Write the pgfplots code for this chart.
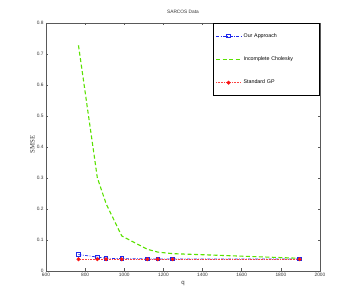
\documentclass[border=0pt]{standalone}
\usepackage{fontspec}
\setmainfont{Liberation Sans}
\newfontfamily\seriffont{Liberation Serif}
\usepackage{pgfplots}
\pgfplotsset{compat=1.18}
\definecolor{cgreen}{RGB}{90,225,0}
\definecolor{cblue}{RGB}{30,40,235}
\definecolor{cred}{RGB}{250,20,20}
\begin{document}
\begin{tikzpicture}
\path[use as bounding box] (-46pt,-34pt) rectangle (308pt,271pt);
\begin{axis}[
  at={(0pt,0pt)}, anchor=south west,
  scale only axis, width=274pt, height=248pt,
  xmin=600, xmax=2000, ymin=0, ymax=0.8,
  xtick={600,800,1000,1200,1400,1600,1800,2000},
  xticklabels={600,800,1000,1200,1400,1600,1800,2000},
  ytick={0,0.1,0.2,0.3,0.4,0.5,0.6,0.7,0.8},
  yticklabels={0,0.1,0.2,0.3,0.4,0.5,0.6,0.7,0.8},
  tick align=inside, tick pos=both, major tick length=2.5pt,
  axis line style={black!65, line width=0.6pt},
  tick style={black!65, line width=0.5pt},
  ticklabel style={font=\fontsize{4.8}{5}\selectfont, text=black!80},
  scaled ticks=false,
  xticklabel style={yshift=1pt},
  yticklabel style={xshift=1pt},
  title={SARCOS Data},
  title style={font=\fontsize{4.8}{5}\selectfont, at={(0.5,1)}, anchor=south, yshift=2pt, inner sep=1pt, text=black!80},
  xlabel={q},
  xlabel style={font=\fontsize{6}{6}\selectfont, at={(axis description cs:0.5,0)}, anchor=north, yshift=-10pt, inner sep=0pt, text=black!80},
  ylabel={\seriffont SMSE},
  ylabel style={font=\fontsize{6.8}{7}\selectfont, at={(axis description cs:-0.05,0.51)}, anchor=center, inner sep=0pt, text=black!80},
  legend style={at={(1,1)}, anchor=north east, draw=black, line width=0.7pt,
    font=\fontsize{5.3}{6}\selectfont, row sep=14pt, inner ysep=8pt, inner xsep=2pt,
    /tikz/every even column/.append style={text width=72pt, align=left}},
  legend cell align=left,
  legend image code/.code={\draw[mark repeat=2,mark phase=2] plot coordinates {(0pt,0pt)(12.5pt,0pt)(25pt,0pt)};},
]
\addplot[cblue, line width=0.7pt, dash pattern=on 3pt off 1.5pt on 0.8pt off 1.5pt,
  mark=square, mark size=1.8pt, mark options={solid, fill=cblue!35, line width=0.8pt}]
  coordinates {(766,0.053)(862,0.045)(907,0.041)(987,0.040)(1118,0.039)(1171,0.039)(1247,0.039)(1896,0.039)};
\addlegendentry{Our Approach}
\addplot[color=cgreen, line width=1.1pt, dash pattern=on 4pt off 2.5pt,
  legend image post style={draw=cgreen, line width=1.1pt}]
  coordinates {(766,0.728)(862,0.302)(907,0.217)(987,0.113)(1118,0.070)(1171,0.061)(1247,0.056)(1896,0.041)};
\addlegendentry{Incomplete Cholesky}
\addplot[cred!80, line width=0.5pt, dash pattern=on 0.6pt off 1pt,
  mark=*, mark size=1.7pt, mark options={solid, fill=cred, draw=cred}]
  coordinates {(766,0.038)(862,0.038)(907,0.038)(987,0.038)(1118,0.038)(1171,0.038)(1247,0.038)(1896,0.038)};
\addlegendentry{Standard GP}
\end{axis}
\end{tikzpicture}
\end{document}
